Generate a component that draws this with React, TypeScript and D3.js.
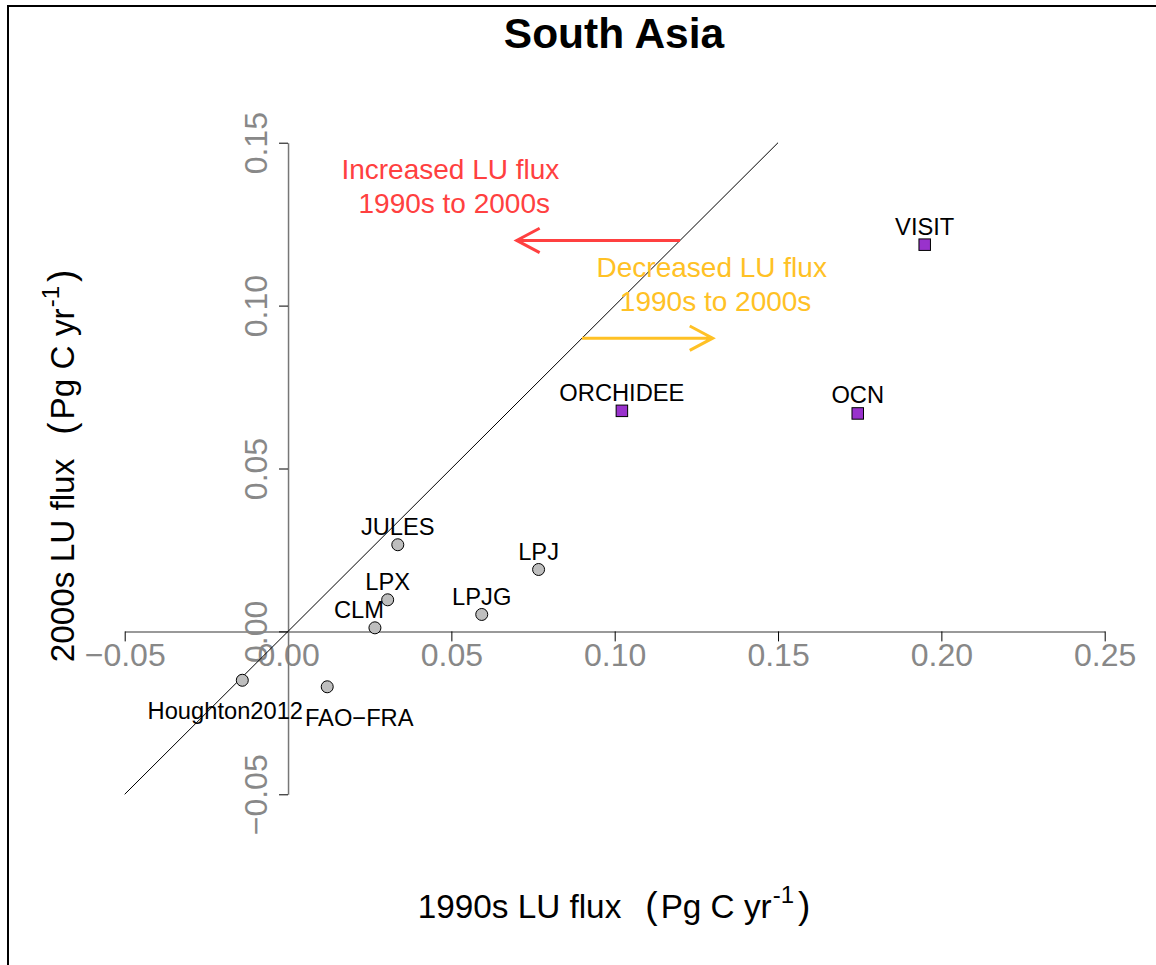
import { useEffect, useRef } from "react";
import * as d3 from "d3";

// model / dataset names and their decadal land-use fluxes (Pg C / yr)
const names = [
  "Houghton2012",
  "FAO\u2212FRA",
  "CLM",
  "LPX",
  "JULES",
  "LPJG",
  "LPJ",
  "ORCHIDEE",
  "OCN",
  "VISIT",
];
const flux1990s = [-0.014, 0.012, 0.0266, 0.0305, 0.0336, 0.0593, 0.0767, 0.1022, 0.1744, 0.1949];
const flux2000s = [-0.015, -0.017, 0.0011, 0.0097, 0.0266, 0.0052, 0.019, 0.0677, 0.0669, 0.1187];
const markerType = ["circle", "circle", "circle", "circle", "circle", "circle", "circle", "square", "square", "square"];

const xTicks = [-0.05, 0, 0.05, 0.1, 0.15, 0.2, 0.25];
const yTicks = [-0.05, 0, 0.05, 0.1, 0.15];
const oneToOne = [-0.05, 0.15];

const FONT = "'Liberation Sans', Arial, Helvetica, sans-serif";
const RED = "#ff4040";
const ORANGE = "#ffc125";
const PURPLE = "#9932cc";

// label nudges (px) where the label is not simply above the point
const labelNudge: Record<string, { dx: number; dy: number }> = {
  Houghton2012: { dx: -17, dy: 38.5 },
  "FAO\u2212FRA": { dx: 32, dy: 39 },
  CLM: { dx: -16, dy: -9.5 },
};

export default function App() {
  const svgRef = useRef<SVGSVGElement>(null);

  useEffect(() => {
    if (!svgRef.current) return;
    const svg = d3.select(svgRef.current);
    svg.selectAll("*").remove();

    const x = d3.scaleLinear().domain([-0.05, 0.25]).range([124.7, 1104.7]);
    const y = d3.scaleLinear().domain([-0.05, 0.15]).range([794.3, 142.7]);
    const fmt = d3.format(".2f");

    // outer box (runs off the page right and bottom)
    svg
      .append("rect")
      .attr("x", 8)
      .attr("y", 6)
      .attr("width", 1170)
      .attr("height", 980)
      .attr("fill", "none")
      .attr("stroke", "#000")
      .attr("stroke-width", 2);

    // title
    svg
      .append("text")
      .attr("x", 614)
      .attr("y", 48)
      .attr("text-anchor", "middle")
      .attr("font-family", FONT)
      .attr("font-weight", "bold")
      .attr("font-size", "42.5px")
      .text("South Asia");

    // x axis through y = 0
    const gx = svg
      .append("g")
      .attr("transform", `translate(0,${y(0)})`)
      .call(d3.axisBottom(x).tickValues(xTicks).tickSize(10).tickSizeOuter(0).tickFormat((d) => fmt(d as number)));
    gx.select(".domain").attr("stroke", "#777").attr("stroke-width", 1.5);
    gx.selectAll(".tick line").attr("stroke", "#000");
    gx.selectAll(".tick text")
      .attr("y", 35)
      .attr("dy", 0)
      .attr("fill", "#888")
      .attr("font-family", FONT)
      .attr("font-size", "32px");

    // y axis through x = 0
    const gy = svg
      .append("g")
      .attr("transform", `translate(${x(0)},0)`)
      .call(d3.axisLeft(y).tickValues(yTicks).tickSize(9).tickSizeOuter(0).tickFormat((d) => fmt(d as number)));
    gy.select(".domain").attr("stroke", "#777").attr("stroke-width", 1.5);
    gy.selectAll(".tick line").attr("stroke", "#000");
    gy.selectAll(".tick text")
      .attr("x", 0)
      .attr("y", -21)
      .attr("dy", 0)
      .attr("transform", "rotate(-90)")
      .attr("text-anchor", "middle")
      .attr("fill", "#888")
      .attr("font-family", FONT)
      .attr("font-size", "32px");

    // 1:1 line
    const line = d3.line<number>().x((d) => x(d)).y((d) => y(d));
    svg
      .append("path")
      .attr("d", line(oneToOne))
      .attr("fill", "none")
      .attr("stroke", "#000")
      .attr("stroke-width", 1);

    // arrows
    function arrow(x0: number, y0: number, x1: number, y1: number, color: string) {
      const px0 = x(x0), py0 = y(y0), px1 = x(x1), py1 = y(y1);
      const a = Math.atan2(py1 - py0, px1 - px0);
      const len = 26;
      const th = (28 * Math.PI) / 180;
      const ax = px1 - len * Math.cos(a - th);
      const ay = py1 - len * Math.sin(a - th);
      const bx = px1 - len * Math.cos(a + th);
      const by = py1 - len * Math.sin(a + th);
      svg
        .append("path")
        .attr("d", `M${px0},${py0}L${px1},${py1}M${ax},${ay}L${px1},${py1}L${bx},${by}`)
        .attr("fill", "none")
        .attr("stroke", color)
        .attr("stroke-width", 3);
    }
    arrow(0.12, 0.12, 0.07, 0.12, RED);
    arrow(0.09, 0.09, 0.13, 0.09, ORANGE);

    function note(cx: number, cy: number, lines: string[], color: string) {
      const t = svg
        .append("text")
        .attr("text-anchor", "middle")
        .attr("font-family", FONT)
        .attr("font-size", "28px")
        .attr("fill", color)
        .style("white-space", "pre");
      lines.forEach((s, i) => {
        t.append("tspan")
          .attr("x", x(cx))
          .attr("y", y(cy) + i * 33.4)
          .text(s);
      });
    }
    note(0.0497, 0.1388, ["Increased LU flux", " 1990s to 2000s"], RED);
    note(0.1297, 0.1087, ["Decreased LU flux", " 1990s to 2000s"], ORANGE);

    const data = names.map((n, i) => ({
      name: n,
      x: flux1990s[i],
      y: flux2000s[i],
      type: markerType[i],
    }));

    // points
    svg
      .append("g")
      .selectAll("circle")
      .data(data.filter((d) => d.type === "circle"))
      .join("circle")
      .attr("cx", (d) => x(d.x))
      .attr("cy", (d) => y(d.y))
      .attr("r", 6)
      .attr("fill", "#bebebe")
      .attr("stroke", "#000")
      .attr("stroke-width", 1);

    const sq = 11.5;
    svg
      .append("g")
      .selectAll("rect")
      .data(data.filter((d) => d.type === "square"))
      .join("rect")
      .attr("x", (d) => x(d.x) - sq / 2)
      .attr("y", (d) => y(d.y) - sq / 2)
      .attr("width", sq)
      .attr("height", sq)
      .attr("fill", PURPLE)
      .attr("stroke", "#000")
      .attr("stroke-width", 1);

    // point labels
    svg
      .append("g")
      .selectAll("text")
      .data(data)
      .join("text")
      .attr("x", (d) => x(d.x) + (labelNudge[d.name]?.dx ?? 0))
      .attr("y", (d) => y(d.y) + (labelNudge[d.name]?.dy ?? (d.type === "square" ? -10 : -9.5)))
      .attr("text-anchor", "middle")
      .attr("font-family", FONT)
      .attr("font-size", "23.7px")
      .attr("fill", "#000")
      .text((d) => d.name);

    // axis titles
    function axisTitle(g: d3.Selection<SVGTextElement, unknown, null, undefined>, lead: string) {
      g.attr("text-anchor", "middle")
        .attr("font-family", FONT)
        .attr("font-size", "33.3px")
        .attr("fill", "#000")
        .style("white-space", "pre");
      g.append("tspan").text(lead);
      g.append("tspan").attr("dx", 24).attr("font-size", "37px").attr("font-weight", 300).text("(");
      g.append("tspan").attr("dx", 3).text("Pg C yr");
      g.append("tspan").attr("font-size", "24px").attr("dx", 1).attr("dy", -15).text("-1");
      g.append("tspan").attr("dx", 4).attr("dy", 15).attr("font-size", "37px").text(")");
    }
    axisTitle(svg.append("text").attr("x", 614).attr("y", 918), "1990s LU flux");
    axisTitle(
      svg.append("text").attr("transform", "translate(74,466) rotate(-90)"),
      "2000s LU flux"
    );
  }, []);

  return (
    <svg
      ref={svgRef}
      width={1156}
      height={965}
      style={{ position: "absolute", left: 0, top: 0, background: "#fff" }}
    />
  );
}
